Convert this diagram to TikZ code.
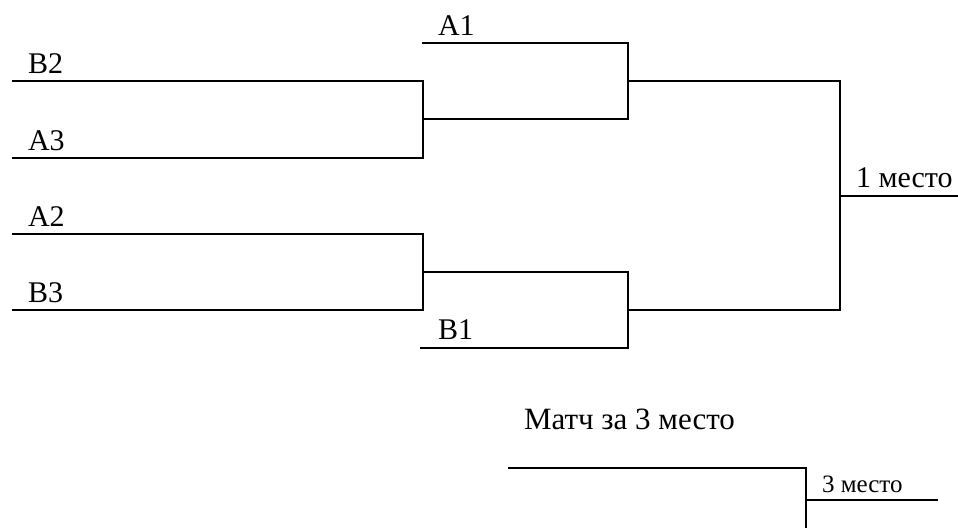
\documentclass[tikz,border=0pt]{standalone}
\usepackage{fontspec}
\setmainfont{Liberation Serif}
\begin{document}
\begin{tikzpicture}[x=1pt,y=-1pt, line width=2pt, line join=miter,
  lbl/.style={anchor=base west, inner sep=0pt, font=\fontsize{30}{36}\selectfont},
  titlelbl/.style={anchor=base west, inner sep=0pt, font=\fontsize{31}{37}\selectfont},
  smalllbl/.style={anchor=base west, inner sep=0pt, font=\fontsize{25}{30}\selectfont}]
\useasboundingbox (0,0) rectangle (958,528);
% first round, upper pair
\coordinate (b2s) at (12,81);
\coordinate (a3s) at (12,157.5);
\coordinate (q1t) at (423,81);
\coordinate (q1b) at (423,157.5);
\coordinate (q1m) at (423,119);
% semifinal upper
\coordinate (a1s) at (422,42.5);
\coordinate (s1t) at (628,42.5);
\coordinate (s1b) at (628,119);
\coordinate (s1m) at (628,80.7);
% first round, lower pair
\coordinate (a2s) at (12,234);
\coordinate (b3s) at (12,310);
\coordinate (q2t) at (423,234);
\coordinate (q2b) at (423,310);
\coordinate (q2m) at (423,272);
% semifinal lower
\coordinate (b1s) at (420,348);
\coordinate (s2t) at (628,272);
\coordinate (s2b) at (628,348);
\coordinate (s2m) at (628,310);
% final
\coordinate (ft) at (840,80.7);
\coordinate (fb) at (840,310);
\coordinate (fm) at (840,196);
\coordinate (fe) at (958,196);
% third place
\coordinate (ts) at (508,468);
\coordinate (tt) at (806,468);
\coordinate (tb) at (806,528);
\coordinate (tm) at (806,500);
\coordinate (te) at (938,500);

\draw (b2s) -- (q1t) -- (q1b) -- (a3s);
\draw (q1m) -- (s1b) -- (s1t) -- (a1s);
\draw (a2s) -- (q2t) -- (q2b) -- (b3s);
\draw (q2m) -- (s2t) -- (s2b) -- (b1s);
\draw (s1m) -- (ft) -- (fb) -- (s2m);
\draw (fm) -- (fe);
\draw (ts) -- (tt) -- (tb);
\draw (tm) -- (te);

\node[lbl] (lb2) at (27,73) {B2};
\node[lbl] (la3) at (27,150) {A3};
\node[lbl] (la2) at (27,226) {A2};
\node[lbl] (lb3) at (27,302) {B3};
\node[lbl] (la1) at (437,35) {A1};
\node[lbl] (lb1) at (437,339) {B1};
\node[lbl] (l1) at (855,187) {1 место};
\node[titlelbl] (lm) at (523,429) {Матч за 3 место};
\node[smalllbl] (l3) at (821,492) {3 место};
\end{tikzpicture}
\end{document}
